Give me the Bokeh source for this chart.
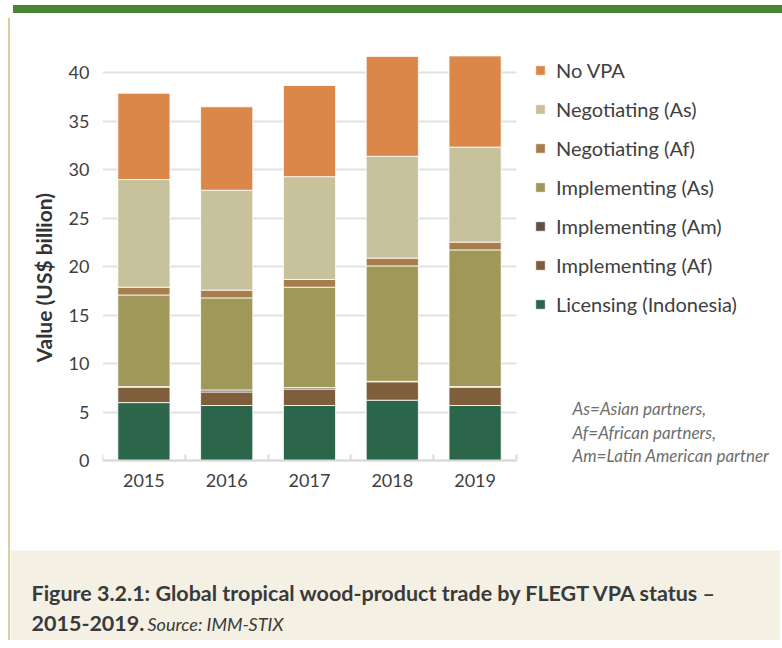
import numpy as np
from bokeh.plotting import figure
from bokeh.models import (ColumnDataSource, FixedTicker, Legend, LegendItem, Label,
                          Div, Spacer, Title, LinearAxis)
from bokeh.layouts import column, row
from bokeh.embed import file_html
from bokeh.resources import INLINE
from bokeh.core.validation import silence
from bokeh.core.validation.warnings import MISSING_RENDERERS

silence(MISSING_RENDERERS, True)

# ---------------- data ----------------
years = ["2015", "2016", "2017", "2018", "2019"]
licensing_indonesia = [6.0, 5.7, 5.7, 6.25, 5.7]
implementing_af = [1.6, 1.4, 1.7, 1.9, 1.9]
implementing_am = [0.05, 0.2, 0.15, 0.05, 0.05]
implementing_as = [9.45, 9.5, 10.35, 11.9, 14.1]
negotiating_af = [0.8, 0.8, 0.8, 0.8, 0.8]
negotiating_as = [11.1, 10.3, 10.6, 10.5, 9.8]
no_vpa = [8.9, 8.6, 9.4, 10.3, 9.4]

series_keys = ["lic", "imp_af", "imp_am", "imp_as", "neg_af", "neg_as", "no_vpa"]
series_names = ["Licensing (Indonesia)", "Implementing (Af)", "Implementing (Am)",
                "Implementing (As)", "Negotiating (Af)", "Negotiating (As)", "No VPA"]
series_colors = ["#2B654A", "#7E5E3B", "#5C5049", "#A09858", "#A87D4E", "#C7C29B", "#DB874A"]
y_ticks = [0, 5, 10, 15, 20, 25, 30, 35, 40]
y_label = "Value (US$ billion)"
note_lines = ["As=Asian partners,", "Af=African partners,", "Am=Latin American partner"]
caption_title = "Figure 3.2.1: Global tropical wood-product trade by FLEGT VPA status \u2013"
caption_years = "2015-2019."
caption_source = "Source: IMM-STIX"

FONT = "Lato"
TXT = "#404040"
BORDER = {"border-left": "2px solid #D9CF9F"}

# ---------------- main chart ----------------
n = len(years)
xpos = np.arange(n) + 0.5
source = ColumnDataSource(dict(
    x=xpos,
    lic=licensing_indonesia, imp_af=implementing_af, imp_am=implementing_am,
    imp_as=implementing_as, neg_af=negotiating_af, neg_as=negotiating_as,
    no_vpa=no_vpa,
))

FIG_W, LEFT, PLOT_W = 772, 92, 414          # bar area is PLOT_W px wide
x_end = n * (FIG_W - LEFT) / PLOT_W         # frame continues to the right for legend/notes

p = figure(width=FIG_W, height=532, x_range=(0, x_end), y_range=(-1, 42),
           output_backend="svg", toolbar_location=None,
           min_border_left=LEFT, min_border_right=0, min_border_top=35,
           min_border_bottom=80, styles=BORDER, frame_align=False)
p.outline_line_color = None
p.background_fill_color = "white"
p.border_fill_color = "white"

renderers = p.vbar_stack(series_keys, x="x", width=0.63, source=source,
                         fill_color=series_colors, line_color="white",
                         line_width=1, line_alpha=0.8)

# y axis
p.yaxis.ticker = FixedTicker(ticks=y_ticks)
p.yaxis.axis_line_color = None
p.yaxis.major_tick_line_color = None
p.yaxis.major_tick_out = 0
p.yaxis.major_tick_in = 0
p.yaxis.minor_tick_line_color = None
p.yaxis.major_label_text_font = FONT
p.yaxis.major_label_text_font_size = "18px"
p.yaxis.major_label_text_color = TXT
p.yaxis.major_label_standoff = 13

p.add_layout(Title(text=y_label, align="left", offset=108, standoff=19,
                   text_font=FONT, text_font_style="bold", text_font_size="21px",
                   text_color="#333333"), "left")

# x axis (labels only) at the bottom of the frame
xlab = p.below[0]
xlab.ticker = FixedTicker(ticks=list(xpos), minor_ticks=[])
xlab.major_label_overrides = {float(v): y for v, y in zip(xpos, years)}
xlab.axis_line_color = None
xlab.major_tick_line_color = None
xlab.minor_tick_line_color = None
xlab.major_tick_out = 0
xlab.major_tick_in = 0
xlab.minor_tick_out = 0
xlab.major_label_text_font = FONT
xlab.major_label_text_font_size = "18px"
xlab.major_label_text_color = TXT
xlab.major_label_standoff = 3

# baseline axis at value 0 with small ticks at category boundaries
xbase = LinearAxis(fixed_location=0, bounds=(0, n),
                   ticker=FixedTicker(ticks=[], minor_ticks=list(range(n + 1))),
                   axis_line_color="#D9D9D9", axis_line_width=2,
                   major_tick_line_color=None, minor_tick_line_color="#D9D9D9",
                   minor_tick_line_width=2, minor_tick_in=6, minor_tick_out=0)
p.add_layout(xbase, "below")

p.xgrid.grid_line_color = None
p.ygrid.grid_line_color = "#E2E2E2"
p.ygrid.grid_line_width = 2
p.ygrid.cross_bounds = (0, n)
p.ygrid.level = "underlay"

items = [LegendItem(label=nm, renderers=[r])
         for nm, r in reversed(list(zip(series_names, renderers)))]
legend = Legend(items=items, location=(432, 154), padding=0, margin=0,
                glyph_width=12, glyph_height=12, label_height=24, spacing=15,
                label_standoff=10, label_text_font=FONT,
                label_text_font_size="20px", label_text_color=TXT,
                border_line_color=None, background_fill_alpha=0)
p.add_layout(legend)

for i, line in enumerate(note_lines):
    p.add_layout(Label(x=470, y=62 - 23.5 * i, x_units="screen", y_units="screen",
                       text=line, text_font=FONT, text_font_style="italic",
                       text_font_size="17px", text_color="#6E6E6E",
                       text_baseline="middle"))

# ---------------- caption ----------------
cap = figure(width=FIG_W, height=90, x_range=(0, 1), y_range=(0, 1),
             x_axis_type=None, y_axis_type=None, output_backend="svg",
             toolbar_location=None, min_border=0, styles=BORDER, frame_align=False)
cap.outline_line_color = None
cap.background_fill_color = "#F4F0E4"
cap.border_fill_color = "#F4F0E4"
cap.grid.visible = False
cap.add_layout(Label(x=21, y=48, x_units="screen", y_units="screen",
                     text=caption_title, text_font=FONT, text_font_style="bold",
                     text_font_size="21.5px", text_color="#3A3A3A",
                     text_baseline="middle"))
cap.add_layout(Label(x=21, y=17, x_units="screen", y_units="screen",
                     text=caption_years, text_font=FONT, text_font_style="bold",
                     text_font_size="21.5px", text_color="#3A3A3A",
                     text_baseline="middle"))
cap.add_layout(Label(x=137, y=17, x_units="screen", y_units="screen",
                     text=caption_source, text_font=FONT, text_font_style="italic",
                     text_font_size="18px", text_color="#3A3A3A",
                     text_baseline="middle"))

green = Div(width=FIG_W + 2, height=8, styles={"background-color": "#4A8535"})
content = column(green, p, cap, spacing=0)
layout = row(Spacer(width=8, height=630), content, spacing=0)

open("out.html", "w").write(file_html(layout, INLINE))
